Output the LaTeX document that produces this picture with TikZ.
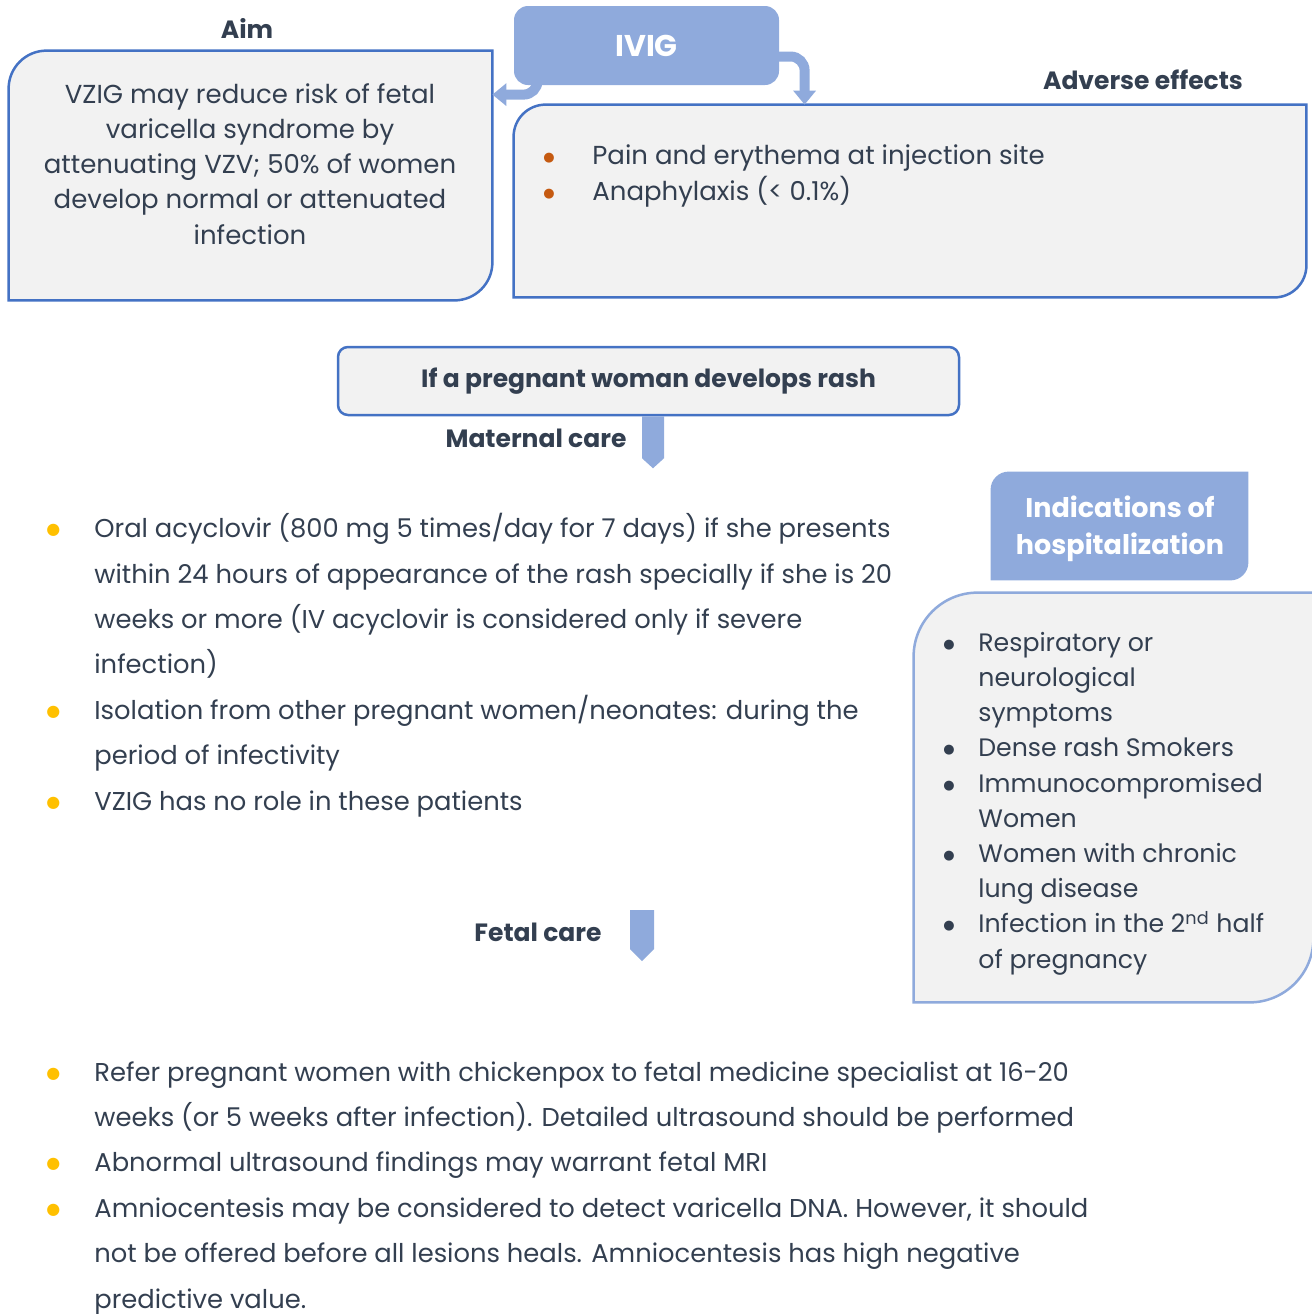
\documentclass[tikz,border=0pt]{standalone}
\usepackage{fontspec}
\setmainfont{Poppins}
\newfontfamily\dotfont{DejaVu Sans}
\usepackage{tikz}
\usetikzlibrary{arrows.meta,positioning,calc}

\definecolor{txt}{RGB}{51,63,80}
\definecolor{cardfill}{HTML}{F2F2F2}
\definecolor{cardline}{HTML}{4472C4}
\definecolor{lblue}{HTML}{8FAADC}
\definecolor{borange}{HTML}{C55A11}
\definecolor{bgold}{HTML}{FFC000}

% bullet: colour, dot size, indent
\newcommand{\bul}[3]{\makebox[#3][l]{\raisebox{1.5pt}{\textcolor{#1}{\dotfont\fontsize{#2}{#2}\selectfont ●}}}}

\tikzset{
  card/.style={draw=cardline,fill=cardfill,line width=1.25pt},
  head/.style={font=\bfseries\fontsize{12.5}{18.5}\selectfont,text=txt},
  fatarrow/.style={draw=lblue,line width=5pt,rounded corners=7pt,-{Triangle[length=7pt,width=11pt]}},
  blockarrow/.style={fill=lblue},
  boxtext/.style={font=\fontsize{13}{17.6}\selectfont,text=txt,inner sep=0pt},
  listtext/.style={font=\fontsize{12.9}{22.7}\selectfont,text=txt,inner sep=0pt,align=left,anchor=base west},
  frame/.style={inner sep=0pt,minimum width=#1},
}

\begin{document}
\begin{tikzpicture}[x=0.5pt,y=-0.5pt]
\useasboundingbox (0,0) rectangle (1312,1314);

% top row
\node (ivig) [fill=lblue,rounded corners=7pt,minimum width=132.5pt,minimum height=39.5pt,
  font=\bfseries\fontsize{15}{18}\selectfont,text=white] at (646.5,45.5) {IVIG};
\node (aim) [frame=241.5pt,minimum height=124.5pt] at (250.5,175.5) {};
\node (adv) [frame=396pt,minimum height=96pt] at (910,201) {};
\draw[card] (aim.west) [rounded corners=19pt] -- (aim.north west) -- (aim.north) [sharp corners] -- (aim.north east)
  -- (aim.east) [rounded corners=19pt] -- (aim.south east) -- (aim.south) [sharp corners] -- (aim.south west) -- cycle;
\draw[card] (adv.west) [rounded corners=16pt] -- (adv.north west) -- (adv.north) [sharp corners] -- (adv.north east)
  -- (adv.east) [rounded corners=16pt] -- (adv.south east) -- (adv.south) [sharp corners] -- (adv.south west) -- cycle;
\draw[fatarrow] ([xshift=12pt,yshift=4pt]ivig.south west) |- ([yshift=-22pt]aim.north east);
\draw[fatarrow] ([xshift=-2pt,yshift=-5.5pt]ivig.east) -| ([xshift=145.5pt]adv.north west);

\node (aimlbl) [head] at (247,28) {Aim};
\node (advlbl) [head] at (1143,80) {Adverse effects};
\node (aimtxt) [boxtext,align=center,anchor=base] at (250,244) {VZIG may reduce risk of fetal\\varicella syndrome by\\attenuating VZV; 50\% of women\\develop normal or attenuated\\infection};
\node (advtxt) [boxtext,align=left,anchor=base west] at (543,200) {\bul{borange}{6.5}{24.5pt}Pain and erythema at injection site\\\bul{borange}{6.5}{24.5pt}Anaphylaxis (< 0.1\%)};

% middle
\node (rash) [card,rounded corners=5pt,minimum width=310.5pt,minimum height=34pt,head] at (648.5,381) {If a pregnant woman develops rash};
\coordinate (mc) at ([xshift=2.25pt]rash.south);
\fill[blockarrow] (mc) ++(-11,0) -- ++(22,0) -- ++(0,42) -- ++(-11,10) -- ++(-11,-10) -- cycle;
\node (matlbl) [head] at (536,438) {Maternal care};

\node (mattxt) [listtext] at (46,810) {\bul{bgold}{8}{24pt}Oral acyclovir (800 mg 5 times/day for 7 days) if she presents\\
  \hspace*{24pt}within 24 hours of appearance of the rash specially if she is 20\\
  \hspace*{24pt}weeks or more (IV acyclovir is considered only if severe\\
  \hspace*{24pt}infection)\\
  \bul{bgold}{8}{24pt}Isolation from other pregnant women/neonates: during the\\
  \hspace*{24pt}period of infectivity\\
  \bul{bgold}{8}{24pt}VZIG has no role in these patients};

% right column
\node (ind) [frame=128.5pt,minimum height=54pt] at (1119.5,526) {};
\fill[lblue] (ind.west) [rounded corners=9pt] -- (ind.north west) -- (ind.north) [sharp corners] -- (ind.north east)
  -- (ind.east) [rounded corners=9pt] -- (ind.south east) -- (ind.south) [sharp corners] -- (ind.south west) -- cycle;
\node (indtxt) [head,text=white,align=center,font=\bfseries\fontsize{13.5}{18.5}\selectfont] at (1120,529) {Indications of\\hospitalization};
\node (hosp) [frame=199.5pt,minimum height=204.5pt] at (1113.5,797.5) {};
\draw[card,draw=lblue] (hosp.west) [rounded corners=32pt] -- (hosp.north west) -- (hosp.north) [sharp corners] -- (hosp.north east)
  -- (hosp.east) [rounded corners=32pt] -- (hosp.south east) -- (hosp.south) [sharp corners] -- (hosp.south west) -- cycle;
\node (hosptxt) [boxtext,align=left,anchor=base west,font=\fontsize{12.6}{17.6}\selectfont] at (943,968) {\bul{txt}{6.5}{17.5pt}Respiratory or\\
  \hspace*{17.5pt}neurological\\
  \hspace*{17.5pt}symptoms\\
  \bul{txt}{6.5}{17.5pt}Dense rash Smokers\\
  \bul{txt}{6.5}{17.5pt}Immunocompromised\\
  \hspace*{17.5pt}Women\\
  \bul{txt}{6.5}{17.5pt}Women with chronic\\
  \hspace*{17.5pt}lung disease\\
  \bul{txt}{6.5}{17.5pt}Infection in the 2\textsuperscript{nd} half\\
  \hspace*{17.5pt}of pregnancy};

% fetal care
\coordinate (fc) at (642,910);
\fill[blockarrow] (fc) ++(-12,0) -- ++(24,0) -- ++(0,39) -- ++(-12,12) -- ++(-12,-12) -- cycle;
\node (fetlbl) [head] at (538,932) {Fetal care};
\node (fettxt) [listtext] at (46,1308) {\bul{bgold}{8}{24pt}Refer pregnant women with chickenpox to fetal medicine specialist at 16-20\\
  \hspace*{24pt}weeks (or 5 weeks after infection). Detailed ultrasound should be performed\\
  \bul{bgold}{8}{24pt}Abnormal ultrasound findings may warrant fetal MRI\\
  \bul{bgold}{8}{24pt}Amniocentesis may be considered to detect varicella DNA. However, it should\\
  \hspace*{24pt}not be offered before all lesions heals. Amniocentesis has high negative\\
  \hspace*{24pt}predictive value.};
\end{tikzpicture}
\end{document}
